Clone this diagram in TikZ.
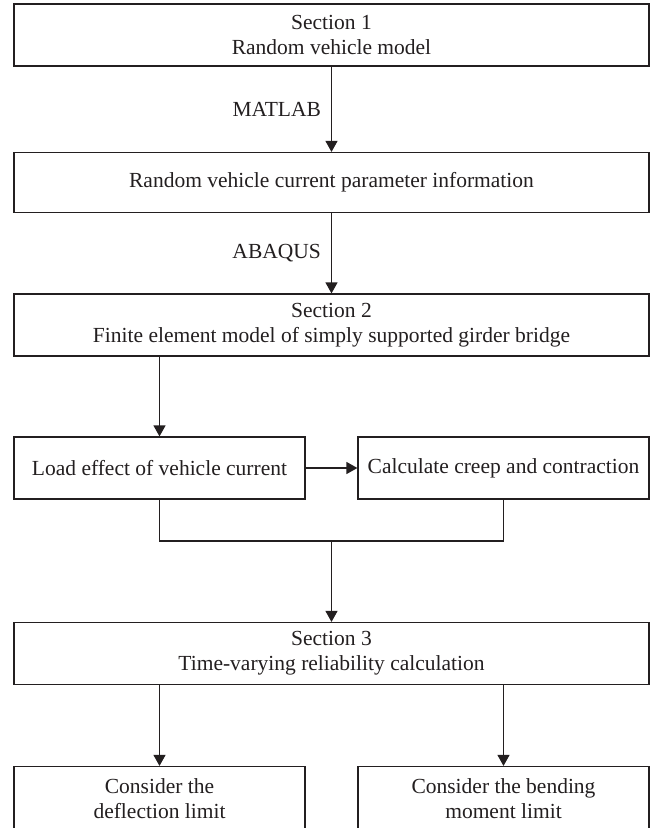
\documentclass[tikz,border=0pt]{standalone}
\usepackage{fontspec}
\setmainfont{Liberation Serif}
\usetikzlibrary{arrows.meta}
\definecolor{ink}{HTML}{231F20}
\begin{document}
\begin{tikzpicture}[x=1pt,y=-1pt,
  box/.style={draw=ink, line width=1.2pt, rectangle, inner sep=0pt, align=center,
    font=\fontsize{21.5}{25}\selectfont, text=ink},
  wide/.style={box, minimum width=635pt},
  half/.style={box, minimum width=291pt},
  arr/.style={draw=ink, line width=1.2pt, -{Triangle[length=11pt,width=12pt]}},
  ln/.style={draw=ink, line width=1.2pt},
  lbl/.style={font=\fontsize{21.5}{25}\selectfont, text=ink, inner sep=0pt, anchor=east, xshift=-10pt}]
\useasboundingbox (0,0) rectangle (651,828);
\clip (0,0) rectangle (651,828);
\fill[white] (0,0) rectangle (651,828);

\node[wide, minimum height=62pt] (b1) at (331.5,35) {Section 1\\Random vehicle model};
\node[wide, minimum height=60pt] (b2) at (331.5,182.5) {Random vehicle current parameter information};
\node[wide, minimum height=62pt] (b3) at (331.5,325) {Section 2\\Finite element model of simply supported girder bridge};
\node[half, minimum height=62pt] (b4) at (159.5,468) {Load effect of vehicle current};
\node[half, minimum height=62pt] (b5) at (503.5,468) {Calculate creep and contraction};
\node[wide, minimum height=62pt] (b6) at (331.5,653.5) {Section 3\\Time-varying reliability calculation};
\node[half, minimum height=64pt] (b7) at (159.5,798.5) {Consider the\\deflection limit};
\node[half, minimum height=64pt] (b8) at (503.5,798.5) {Consider the bending\\moment limit};

\coordinate (j) at (331.5,541);

\draw[arr] (b1) -- node[lbl] {MATLAB} (b2);
\draw[arr] (b2) -- node[lbl] {ABAQUS} (b3);
\draw[arr] (b3.south -| b4) -- (b4.north);
\draw[arr] (b4.east) -- (b5.west);
\draw[ln] (b4.south) |- (j) -| (b5.south);
\draw[arr] (j) -- (b6.north);
\draw[arr] (b6.south -| b7) -- (b7.north);
\draw[arr] (b6.south -| b8) -- (b8.north);
\end{tikzpicture}
\end{document}
